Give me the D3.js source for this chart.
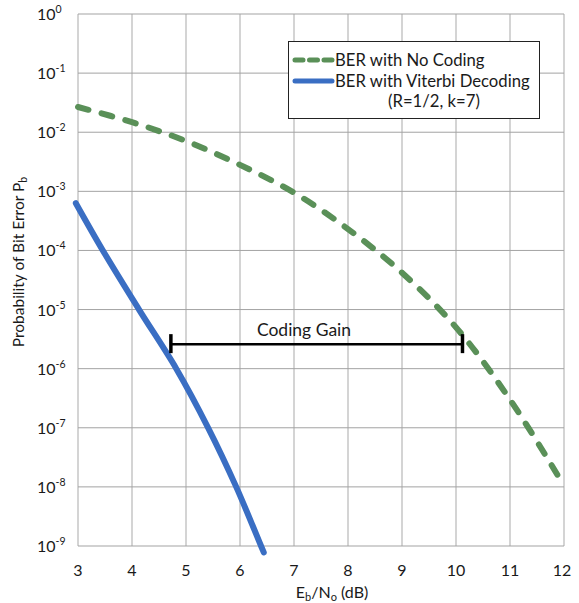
<!DOCTYPE html>
<meta charset="utf-8">
<style>
  body { margin: 0; background: #fff; }
  text { font-family: Lato, sans-serif; fill: #1a1a1a; }
</style>
<svg width="579" height="603"></svg>
<script src="https://d3js.org/d3.v7.min.js"></script>
<script>

// values
var xTicks = [3, 4, 5, 6, 7, 8, 9, 10, 11, 12];
var yExponents = [0, -1, -2, -3, -4, -5, -6, -7, -8, -9];

var uncodedEbNo = [3, 4, 5, 6, 7, 8, 9, 10, 11, 12];
var uncodedBer = [2.67e-2, 1.48e-2, 7.1e-3, 2.8e-3, 9.5e-4, 2.3e-4, 4.2e-5, 5e-6, 3e-7, 1.05e-8];

var viterbiEbNo = [2.96, 3.46, 4.13, 4.82, 5.41, 5.93, 6.39, 6.44];
var viterbiBer = [6.3e-4, 1e-4, 1e-5, 1e-6, 1e-7, 1e-8, 1e-9, 7.8e-10];

var gainFrom = 4.72, gainTo = 10.12, gainBer = 2.6e-6;

var legendLabels = ["BER with No Coding", "BER with Viterbi Decoding", "(R=1/2, k=7)"];

var green = "#5a9058", blue = "#3a6ec3";

var svg = d3.select("svg");

var x = d3.scaleLinear().domain([3, 12]).range([78, 564]);
var y = d3.scaleLog().domain([1e-9, 1]).range([546, 14]);

// grid
svg.append("g").selectAll("line")
  .data(xTicks)
  .enter().append("line")
    .attr("x1", function(d) { return x(d); })
    .attr("x2", function(d) { return x(d); })
    .attr("y1", y(1))
    .attr("y2", y(1e-9))
    .style("stroke", "#c2c2c2")
    .style("stroke-width", 1.4);

svg.append("g").selectAll("line")
  .data(yExponents)
  .enter().append("line")
    .attr("x1", x(3))
    .attr("x2", x(12))
    .attr("y1", function(d) { return y(Math.pow(10, d)); })
    .attr("y2", function(d) { return y(Math.pow(10, d)); })
    .style("stroke", "#a3a3a3")
    .style("stroke-width", 1);

// y tick labels 10^n
var yl = svg.append("g").selectAll("text")
  .data(yExponents)
  .enter().append("text")
    .attr("x", 37)
    .attr("y", function(d) { return y(Math.pow(10, d)) + 6; })
    .style("font-size", "16px");
yl.append("tspan").text("10");
yl.append("tspan")
    .attr("dy", -7)
    .style("font-size", "10.5px")
    .text(function(d) { return d === 0 ? "0" : "-" + (-d); });

// x tick labels
svg.append("g").selectAll("text")
  .data(xTicks)
  .enter().append("text")
    .attr("x", function(d) { return x(d) - (d === 12 ? 2 : 0); })
    .attr("y", 576)
    .attr("text-anchor", "middle")
    .style("font-size", "16px")
    .text(function(d) { return d; });

// axis titles
var xt = svg.append("text")
    .attr("x", 332)
    .attr("y", 598)
    .attr("text-anchor", "middle")
    .style("font-size", "16px");
xt.append("tspan").text("E");
xt.append("tspan").attr("dy", 3).style("font-size", "11px").text("b");
xt.append("tspan").attr("dy", -3).text("/N");
xt.append("tspan").attr("dy", 3).style("font-size", "11px").text("o");
xt.append("tspan").attr("dy", -3).text(" (dB)");

var yt = svg.append("text")
    .attr("transform", "translate(24,262) rotate(-90)")
    .attr("text-anchor", "middle")
    .style("font-size", "15.5px");
yt.append("tspan").text("Probability of Bit Error P");
yt.append("tspan").attr("dy", 3).style("font-size", "10.5px").text("b");

// curves
var line = d3.line()
    .x(function(d) { return x(d[0]); })
    .y(function(d) { return y(d[1]); })
    .curve(d3.curveCatmullRom.alpha(0.5));

svg.append("path")
    .datum(d3.zip(uncodedEbNo, uncodedBer))
    .attr("d", line)
    .style("fill", "none")
    .style("stroke", green)
    .style("stroke-width", 6)
    .style("stroke-linecap", "round")
    .style("stroke-dasharray", "11,13.5");

svg.append("path")
    .datum(d3.zip(viterbiEbNo, viterbiBer))
    .attr("d", line)
    .style("fill", "none")
    .style("stroke", blue)
    .style("stroke-width", 6)
    .style("stroke-linecap", "round");

// coding gain marker
var gy = y(gainBer);
svg.append("line")
    .attr("x1", x(gainFrom)).attr("x2", x(gainTo))
    .attr("y1", gy).attr("y2", gy)
    .style("stroke", "#000").style("stroke-width", 2.5);
svg.selectAll(".gtick")
  .data([gainFrom, gainTo])
  .enter().append("line")
    .attr("class", "gtick")
    .attr("x1", function(d) { return x(d); })
    .attr("x2", function(d) { return x(d); })
    .attr("y1", gy - 10).attr("y2", gy + 9)
    .style("stroke", "#000").style("stroke-width", 3.5);
svg.append("text")
    .attr("x", 304)
    .attr("y", 336)
    .attr("text-anchor", "middle")
    .style("font-size", "17.5px")
    .text("Coding Gain");

// legend
var lg = svg.append("g");
lg.append("rect")
    .attr("x", 288.5).attr("y", 41.5)
    .attr("width", 251).attr("height", 77)
    .style("fill", "#fff")
    .style("stroke", "#222")
    .style("stroke-width", 1);
lg.append("line")
    .attr("x1", 295).attr("x2", 332)
    .attr("y1", 60).attr("y2", 60)
    .style("stroke", green).style("stroke-width", 5)
    .style("stroke-linecap", "round")
    .style("stroke-dasharray", "8,6.5");
lg.append("line")
    .attr("x1", 295).attr("x2", 332)
    .attr("y1", 81).attr("y2", 81)
    .style("stroke", blue).style("stroke-width", 5)
    .style("stroke-linecap", "round");
lg.selectAll(".lt")
  .data(legendLabels)
  .enter().append("text")
    .attr("class", "lt")
    .attr("x", function(d, i) { return i === 2 ? 388 : 335; })
    .attr("y", function(d, i) { return 66 + i * 20.5; })
    .style("font-size", "16.7px")
    .text(function(d) { return d; });

</script>
